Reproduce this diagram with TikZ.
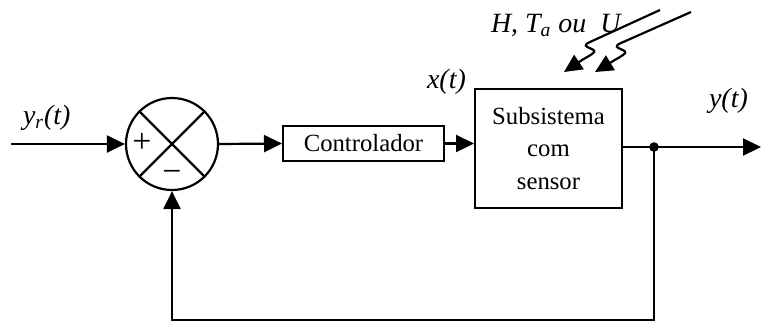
\documentclass[tikz,border=0pt]{standalone}
\usepackage{fontspec}
\setmainfont{Liberation Serif}
\usetikzlibrary{arrows.meta}
\begin{document}
\begin{tikzpicture}[x=0.5bp,y=-0.5bp,
  line width=1.1bp,
  tip/.style={-{Triangle[length=9bp,width=8.5bp]}},
  blk/.style={draw,line width=1bp,inner sep=0pt,font=\fontsize{12.4}{15}\selectfont},
  lbl/.style={inner sep=0pt,font=\fontsize{14}{16}\selectfont\itshape},
  sgn/.style={inner sep=0pt,font=\fontsize{17}{18}\selectfont}]
\useasboundingbox (0,0) rectangle (761,325);

\coordinate (in) at (11,144);
\node[draw,circle,line width=1.1bp,minimum size=46bp,inner sep=0pt] (sum) at (172,144) {};
\draw (sum.north east) -- (sum.south west);
\draw (sum.north west) -- (sum.south east);
\node[sgn] (plus) at (142,143) {+};
\node[sgn] (minus) at (172,176) {−};

\node[blk,minimum width=80.5bp,minimum height=17.5bp] (ctrl) at (363.5,143.5) {Controlador};
\node[blk,minimum width=73.5bp,minimum height=59.5bp,align=center,
      font=\fontsize{12.4}{16.5}\selectfont] (sub) at (548.5,148.5) {Subsistema\\com\\sensor};

\coordinate (j) at (654,147);
\coordinate (out) at (761,147);
\coordinate (b1) at (654,320);
\coordinate (b2) at (172,320);

\draw[tip] (in) -- (sum.west);
\draw[tip] (sum.east) -- (ctrl.west);
\draw[tip] (ctrl.east) -- (ctrl.east -| sub.west);
\draw (sub.east |- j) -- (j);
\draw[tip] (j) -- (out);
\fill (j) circle (2.4bp);
\draw[tip] (j) -- (b1) -- (b2) -- (sum.south);

\node[lbl,anchor=base west] (yr) at (22,124) {y\textsubscript{r}(t)};
\node[lbl,anchor=base west] (xt) at (426,88) {x(t)};
\node[lbl,anchor=base west] (yt) at (708,107) {y(t)};
\node[lbl,anchor=base west] (dist) at (490,32) {H, T\textsubscript{a} ou\ \ U};

\coordinate (s1) at (660,10);
\coordinate (s2) at (691,12);
\draw[tip] (s1) -- (590,42) .. controls (576,48) and (602,48) .. (592,54) .. controls (588,57) and (583,59) .. (579,62) -- (564,72);
\draw[tip] (s2) -- (621,43) .. controls (607,49) and (633,49) .. (623,55) .. controls (619,58) and (614,60) .. (610,63) -- (595,72);
\end{tikzpicture}
\end{document}
